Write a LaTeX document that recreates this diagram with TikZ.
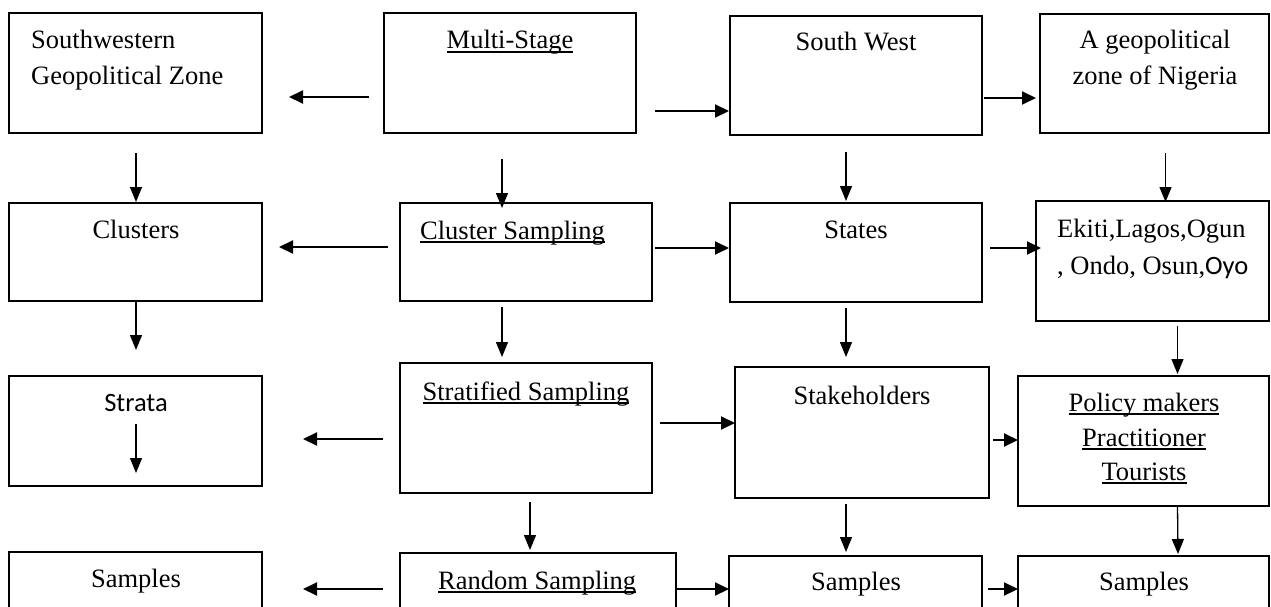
\documentclass[tikz,border=0pt]{standalone}
\usepackage{fontspec}
\setmainfont{Liberation Serif}
\newfontfamily\calfont{Carlito}
\newsavebox\myulbox
\newcommand\myul[1]{\sbox\myulbox{#1}\rlap{\rule[-3.6pt]{\wd\myulbox}{1.2pt}}\usebox\myulbox}
\usetikzlibrary{arrows.meta}
\tikzset{
  box/.style={draw, line width=1.3pt, inner sep=0pt, outer sep=0pt, anchor=north west},
  txt/.style={inner sep=0pt, anchor=base, font=\fontsize{26.5}{36}\selectfont},
  txtl/.style={txt, anchor=base west},
  harr/.style={line width=2pt, -{Triangle[length=14pt,width=13pt]}},
  varr/.style={line width=1.3pt, -{Triangle[length=15pt,width=12pt]}}
}
\begin{document}
\begin{tikzpicture}[x=1pt,y=-1pt]
\useasboundingbox (0,0) rectangle (1271,607);
\fill[white] (0,0) rectangle (1271,607);
\clip (0,0) rectangle (1271,607);
% boxes
\node[box, minimum width=253pt, minimum height=120pt] (a) at (9,13) {};
\node[box, minimum width=252pt, minimum height=120pt] (ms) at (384,13) {};
\node[box, minimum width=252pt, minimum height=119pt] (sw) at (730,16) {};
\node[box, minimum width=229pt, minimum height=119pt] (geo) at (1040,14) {};
\node[box, minimum width=253pt, minimum height=98pt] (cl) at (9,203) {};
\node[box, minimum width=252pt, minimum height=98pt] (cs) at (400,203) {};
\node[box, minimum width=252pt, minimum height=99pt] (st) at (730,203) {};
\node[box, minimum width=233pt, minimum height=120pt] (ek) at (1036,201) {};
\node[box, minimum width=253pt, minimum height=110pt] (sa) at (9,376) {};
\node[box, minimum width=252pt, minimum height=130pt] (ss) at (400,363) {};
\node[box, minimum width=254pt, minimum height=131pt] (sh) at (735,367) {};
\node[box, minimum width=251pt, minimum height=130pt] (pm) at (1018,376) {};
\node[box, minimum width=253pt, minimum height=100pt] (s1) at (9,552) {};
\node[box, minimum width=276pt, minimum height=100pt] (rs) at (400,553) {};
\node[box, minimum width=253pt, minimum height=100pt] (s2) at (729,556) {};
\node[box, minimum width=251pt, minimum height=100pt] (s3) at (1018,556) {};
% texts
\node[txtl] (ta1) at (31,49) {Southwestern};
\node[txtl] (ta2) at (31,85) {Geopolitical Zone};
\node[txt] (tms) at (510,49) {\myul{Multi-Stage}};
\node[txt] (tsw) at (856,51) {South West};
\node[txt] (tg1) at (1155,49) {A geopolitical};
\node[txt] (tg2) at (1155,85) {zone of Nigeria};
\node[txt] (tcl) at (136,238) {Clusters};
\node[txtl] (tcs) at (420,239) {\myul{Cluster Sampling}};
\node[txt] (tst) at (856,238) {States};
\node[txtl] (tek1) at (1057,237) {Ekiti,Lagos,Ogun};
\node[txtl] (tek2) at (1057,274) {, Ondo, Osun,{\calfont Oyo}};
\node[txt] (tsa) at (136,411) {{\calfont Strata}};
\node[txt] (tss) at (526,400) {\myul{Stratified Sampling}};
\node[txt] (tsh) at (862,404) {Stakeholders};
\node[txt] (tpm1) at (1144,411) {\myul{Policy makers}};
\node[txt] (tpm2) at (1144,446) {\myul{Practitioner}};
\node[txt] (tpm3) at (1144,480) {\myul{Tourists}};
\node[txt] (ts1) at (136,587) {Samples};
\node[txtl] (trs) at (438,589) {\myul{Random Sampling}};
\node[txt] (ts2) at (856,590) {Samples};
\node[txt] (ts3) at (1144,590) {Samples};
% horizontal arrows
\draw[harr] ([shift={(-15,24)}]ms.west) -- ([shift={(27,24)}]a.east);
\draw[harr] ([shift={(19,38)}]ms.east) -- ([shift={(-1,35.5)}]sw.west);
\draw[harr] ([shift={(2,22.5)}]sw.east) -- ([shift={(-4,24.5)}]geo.west);
\draw[harr] ([shift={(-12,-5)}]cs.west) -- ([shift={(17,-5)}]cl.east);
\draw[harr] ([shift={(3,-4)}]cs.east) -- ([shift={(-1,-4.5)}]st.west);
\draw[harr] ([shift={(8,-4.5)}]st.east) -- ([shift={(5,-13)}]ek.west);
\draw[harr] ([shift={(-17,11)}]ss.west) -- ([shift={(41,8)}]sa.east);
\draw[harr] ([shift={(8,-5)}]ss.east) -- ([shift={(0,-9.5)}]sh.west);
\draw[harr] ([shift={(4,7.5)}]sh.east) -- ([shift={(0,-1)}]pm.west);
\draw[harr] ([shift={(-17,-14)}]rs.west) -- ([shift={(41,-13)}]s1.east);
\draw[harr] ([shift={(0,-14)}]rs.east) -- ([shift={(0,-17)}]s2.west);
\draw[harr] ([shift={(6,-17)}]s2.east) -- ([shift={(0,-17)}]s3.west);
% vertical arrows
\draw[varr] ([shift={(0.5,20)}]a.south) -- ([shift={(0.5,-1)}]cl.north);
\draw[varr] ([shift={(-8,26)}]ms.south) -- ([shift={(-24,5)}]cs.north);
\draw[varr] ([shift={(-10,17)}]sw.south) -- ([shift={(-10,-2)}]st.north);
\draw[varr] ([shift={(11,20)}]geo.south) -- ([shift={(13,1)}]ek.north);
\draw[varr] ([shift={(0.5,1)}]cl.south) -- ([shift={(0.5,-26)}]sa.north);
\draw[varr] ([shift={(-24,6)}]cs.south) -- ([shift={(-24,-6)}]ss.north);
\draw[varr] ([shift={(-10,6)}]st.south) -- ([shift={(-16,-10)}]sh.north);
\draw[varr] ([shift={(25,5)}]ek.south) -- ([shift={(34,-2)}]pm.north);
\draw[varr] ([shift={(0.5,-7)}]sa.center) -- ([shift={(0.5,-13)}]sa.south);
\draw[varr] ([shift={(4,9)}]ss.south) -- ([shift={(-8,-3)}]rs.north);
\draw[varr] ([shift={(-16,6)}]sh.south) -- ([shift={(-9.5,-4)}]s2.north);
\draw[varr] ([shift={(34,0)}]pm.south) -- ([shift={(34.5,-2)}]s3.north);
\end{tikzpicture}
\end{document}
